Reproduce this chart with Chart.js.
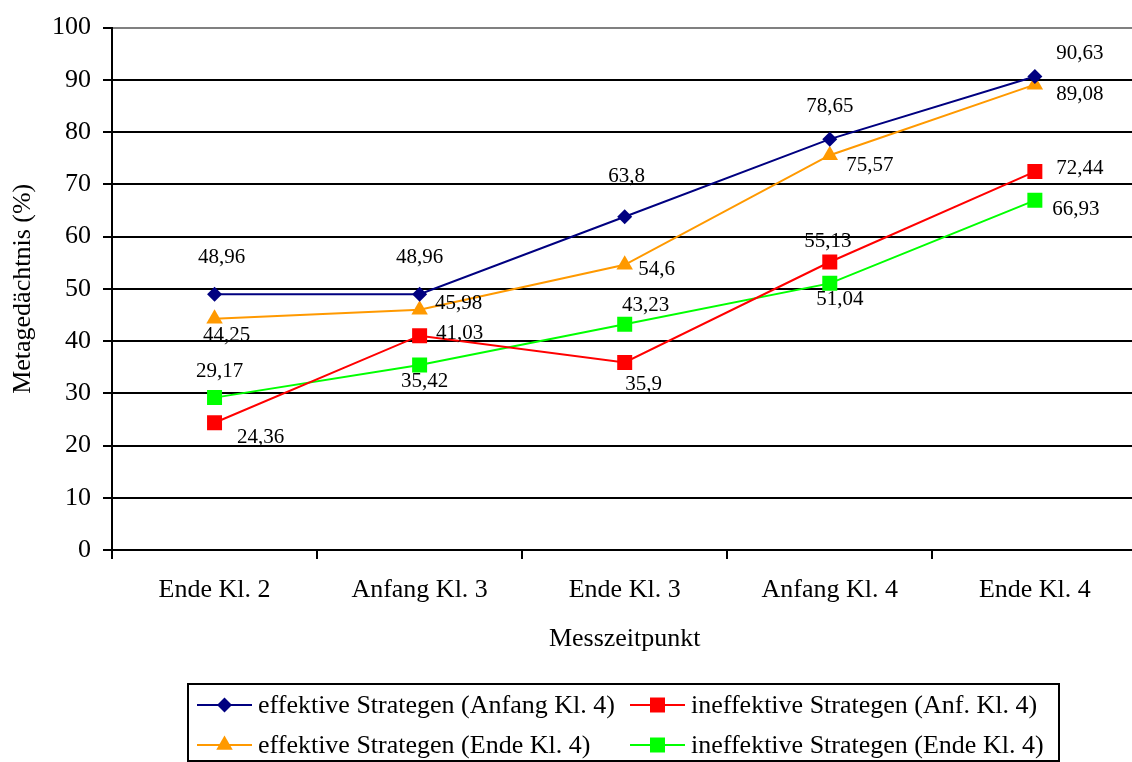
<!DOCTYPE html>
<html lang="de">
<head>
<meta charset="utf-8">
<title>Metagedächtnis nach Messzeitpunkt</title>
<script src="https://cdn.jsdelivr.net/npm/chart.js@4/dist/chart.umd.min.js"></script>
<style>
  html, body { margin: 0; padding: 0; background: #fff; overflow: hidden; }
  #wrap { width: 1148px; height: 762px; }
</style>
</head>
<body>
<div id="wrap"><canvas id="c" width="1148" height="762"></canvas></div>
<script>
// Messzeitpunkte (x-Achse)
const categories = ['Ende Kl. 2', 'Anfang Kl. 3', 'Ende Kl. 3', 'Anfang Kl. 4', 'Ende Kl. 4'];

// Metagedächtnis in Prozent je Gruppe
const effektivAnfang   = [48.96, 48.96, 63.8, 78.65, 90.63];
const ineffektivAnfang = [24.36, 41.03, 35.9, 55.13, 72.44];
const effektivEnde     = [44.25, 45.98, 54.6, 75.57, 89.08];
const ineffektivEnde   = [29.17, 35.42, 43.23, 51.04, 66.93];

// Gruppenbezeichnungen
const seriesNames = [
  'effektive Strategen (Anfang Kl. 4)',
  'ineffektive Strategen (Anf. Kl. 4)',
  'effektive Strategen (Ende Kl. 4)',
  'ineffektive Strategen (Ende Kl. 4)'
];

// y-Achse 0 … 100 in Zehnerschritten
const yMin = 0, yMax = 100, yStep = 10;

const SERIF = '"Liberation Serif", "Times New Roman", serif';

// Versatz der Wertbeschriftungen relativ zum Punkt (dx, dy)
const labelOffsets = [
  [[7, -37], [0, -37], [2, -40], [0, -33], [45, -23]],
  [[46, 15], [40, -2], [19, 22], [-2, -21], [45, -3]],
  [[12, 17], [39, -6], [32, 5], [40, 10], [45, 10]],
  [[5, -26], [5, 17], [21, -19], [10, 16], [41, 9]]
];

const fmt = v => String(v).replace('.', ',');

// Wertbeschriftungen an den Punkten
const valueLabels = {
  id: 'valueLabels',
  afterDatasetsDraw(chart) {
    const ctx = chart.ctx;
    ctx.save();
    ctx.font = '21px ' + SERIF;
    ctx.fillStyle = '#000';
    ctx.textAlign = 'center';
    ctx.textBaseline = 'middle';
    chart.data.datasets.forEach((ds, di) => {
      const meta = chart.getDatasetMeta(di);
      meta.data.forEach((pt, i) => {
        const off = labelOffsets[di][i];
        ctx.fillText(fmt(ds.data[i]), pt.x + off[0], pt.y + off[1]);
      });
    });
    ctx.restore();
  }
};

// Legende im Kasten unter dem Diagramm, zwei Spalten
const boxLegend = {
  id: 'boxLegend',
  afterDraw(chart) {
    const ctx = chart.ctx;
    const box = { left: 188, top: 684, right: 1059, bottom: 761 };
    const cols = [197, 630];
    const rows = [705, 745];
    const lineLen = 55;
    ctx.save();
    ctx.strokeStyle = '#000';
    ctx.lineWidth = 2;
    ctx.strokeRect(box.left, box.top, box.right - box.left, box.bottom - box.top);
    ctx.font = '26px ' + SERIF;
    ctx.textBaseline = 'middle';
    ctx.textAlign = 'left';
    chart.data.datasets.forEach((ds, di) => {
      const x = cols[di % 2];
      const y = rows[Math.floor(di / 2)];
      ctx.strokeStyle = ds.borderColor;
      ctx.lineWidth = 2;
      ctx.beginPath();
      ctx.moveTo(x, y);
      ctx.lineTo(x + lineLen, y);
      ctx.stroke();
      ctx.fillStyle = ds.backgroundColor;
      Chart.helpers.drawPoint(ctx, {
        pointStyle: ds.pointStyle,
        radius: ds.pointRadius,
        rotation: 0,
        borderWidth: 0
      }, x + lineLen / 2, y);
      ctx.fillStyle = '#000';
      ctx.fillText(ds.label, x + lineLen + 6, y + 1);
    });
    ctx.restore();
  }
};

function series(label, data, color, style, radius) {
  return {
    label, data,
    borderColor: color,
    backgroundColor: color,
    borderWidth: 2,
    pointStyle: style,
    pointRadius: radius,
    pointHoverRadius: radius,
    pointBorderWidth: 0,
    tension: 0
  };
}

new Chart(document.getElementById('c'), {
  type: 'line',
  data: {
    labels: categories,
    datasets: [
      series(seriesNames[0], effektivAnfang, '#000080', 'rectRot', 7.5),
      series(seriesNames[1], ineffektivAnfang, '#FF0000', 'rect', 10.6),
      series(seriesNames[2], effektivEnde, '#FF9900', 'triangle', 9.5),
      series(seriesNames[3], ineffektivEnde, '#00FF00', 'rect', 10.6)
    ]
  },
  options: {
    responsive: false,
    devicePixelRatio: 1,
    animation: false,
    events: [],
    layout: { padding: { left: 0, top: 23, right: 2, bottom: 0 } },
    plugins: {
      legend: { display: false },
      tooltip: { enabled: false }
    },
    scales: {
      x: {
        type: 'category',
        offset: true,
        afterFit(scale) { scale.height = 212; },
        grid: {
          offset: true,
          drawOnChartArea: false,
          drawTicks: true,
          tickLength: 9,
          color: '#000',
          lineWidth: 2
        },
        border: { display: true, color: '#000', width: 2 },
        ticks: {
          color: '#000',
          font: { family: SERIF, size: 26 },
          padding: 16,
          maxRotation: 0,
          autoSkip: false
        },
        title: {
          display: true,
          text: 'Messzeitpunkt',
          color: '#000',
          font: { family: SERIF, size: 26 },
          padding: { top: 0, bottom: 107 }
        }
      },
      y: {
        min: yMin,
        max: yMax,
        afterFit(scale) { scale.width = 112; },
        grid: {
          color: ctx => (ctx.tick && ctx.tick.value === yMax) ? '#808080' : '#000',
          tickColor: '#000',
          lineWidth: 2,
          tickLength: 9,
          drawTicks: true
        },
        border: { display: true, color: '#000', width: 2 },
        ticks: {
          stepSize: yStep,
          color: '#000',
          font: { family: SERIF, size: 26 },
          padding: 12
        },
        title: {
          display: true,
          text: 'Metagedächtnis (%)',
          color: '#000',
          font: { family: SERIF, size: 26 },
          padding: { top: 8, bottom: 0 }
        }
      }
    }
  },
  plugins: [valueLabels, boxLegend]
});
</script>
</body>
</html>
